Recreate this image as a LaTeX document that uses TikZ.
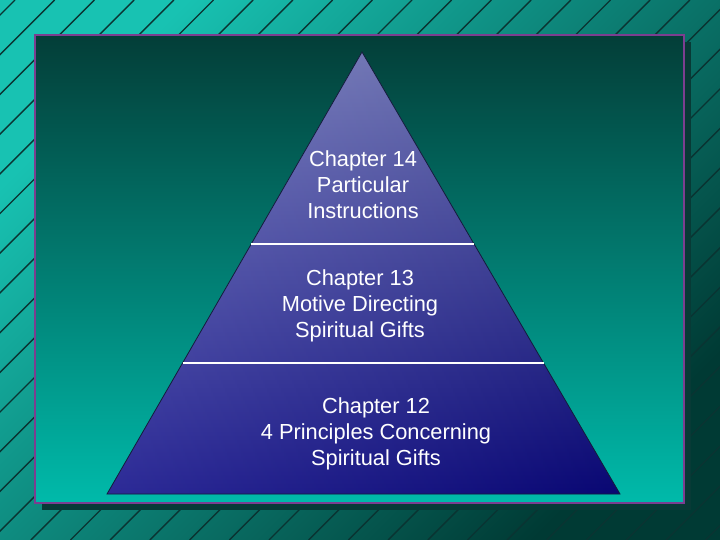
\documentclass[tikz,border=0pt]{standalone}
\usepackage{fontspec}
\setmainfont{Liberation Sans}
\usetikzlibrary{calc}
\definecolor{bgA}{RGB}{24,194,178}
\definecolor{bgB}{RGB}{0,58,52}
\definecolor{bgline}{RGB}{10,52,50}
\definecolor{shadowc}{RGB}{8,58,54}
\definecolor{panelTop}{RGB}{3,62,56}
\definecolor{panelBot}{RGB}{0,186,170}
\definecolor{borderc}{RGB}{124,62,144}
\definecolor{pyrTop}{RGB}{112,118,190}
\definecolor{pyrBot}{RGB}{10,8,134}
\definecolor{pyrEdge}{RGB}{20,28,60}
\tikzset{
  hatch/.style={bgline, line width=1.4pt},
  panelborder/.style={borderc, line width=2.6pt},
  sepline/.style={white, line width=2pt},
  label/.style={text=white, align=center, font=\fontsize{21.8}{26}\selectfont, inner sep=0pt}
}
\begin{document}
\begin{tikzpicture}[x=1pt,y=-1pt]
\useasboundingbox (0,0) rectangle (720,540);
% outer background
\shade[top color=bgA, bottom color=bgB, shading angle=45] (0,0) rectangle (720,540);
\begin{scope}
  \clip (0,0) rectangle (720,540);
  \foreach \k in {0,...,32} {
    \draw[hatch] ({15+39.7*\k},0) -- ({15+39.7*\k-540},540);
  }
\end{scope}
% shadow and panel
\fill[shadowc] (42,42) rectangle (691,510);
\shade[top color=panelTop, bottom color=panelBot] (35,35) rectangle (684,503);
\draw[panelborder] (35,35) rectangle (684,503);
% pyramid
\coordinate (apex) at (362,52);
\coordinate (bl) at (107,494);
\coordinate (br) at (620,494);
\shade[top color=pyrTop, bottom color=pyrBot] (apex) -- (bl) -- (br) -- cycle;
\begin{scope}
  \clip (apex) -- (bl) -- (br) -- cycle;
  \shade[left color=white, right color=black, fill opacity=0.14] (107,52) rectangle (620,494);
\end{scope}
\draw[pyrEdge, line width=0.8pt, line join=miter] (apex) -- (bl) -- (br) -- cycle;
% separators
\coordinate (s1l) at ($(apex)!0.4344!(bl)$);
\coordinate (s1r) at ($(apex)!0.4344!(br)$);
\coordinate (s2l) at ($(apex)!0.7036!(bl)$);
\coordinate (s2r) at ($(apex)!0.7036!(br)$);
\draw[sepline] (s1l) -- (s1r);
\draw[sepline] (s2l) -- (s2r);
% labels
\node[label] (t14) at (363,184.5) {Chapter 14\\Particular\\Instructions};
\node[label] (t13) at (360,305.5) {Chapter 13\\Motive Directing\\Spiritual Gifts};
\node[label] (t12) at (376,433.5) {Chapter 12\\4 Principles Concerning\\Spiritual Gifts};
\end{tikzpicture}
\end{document}
